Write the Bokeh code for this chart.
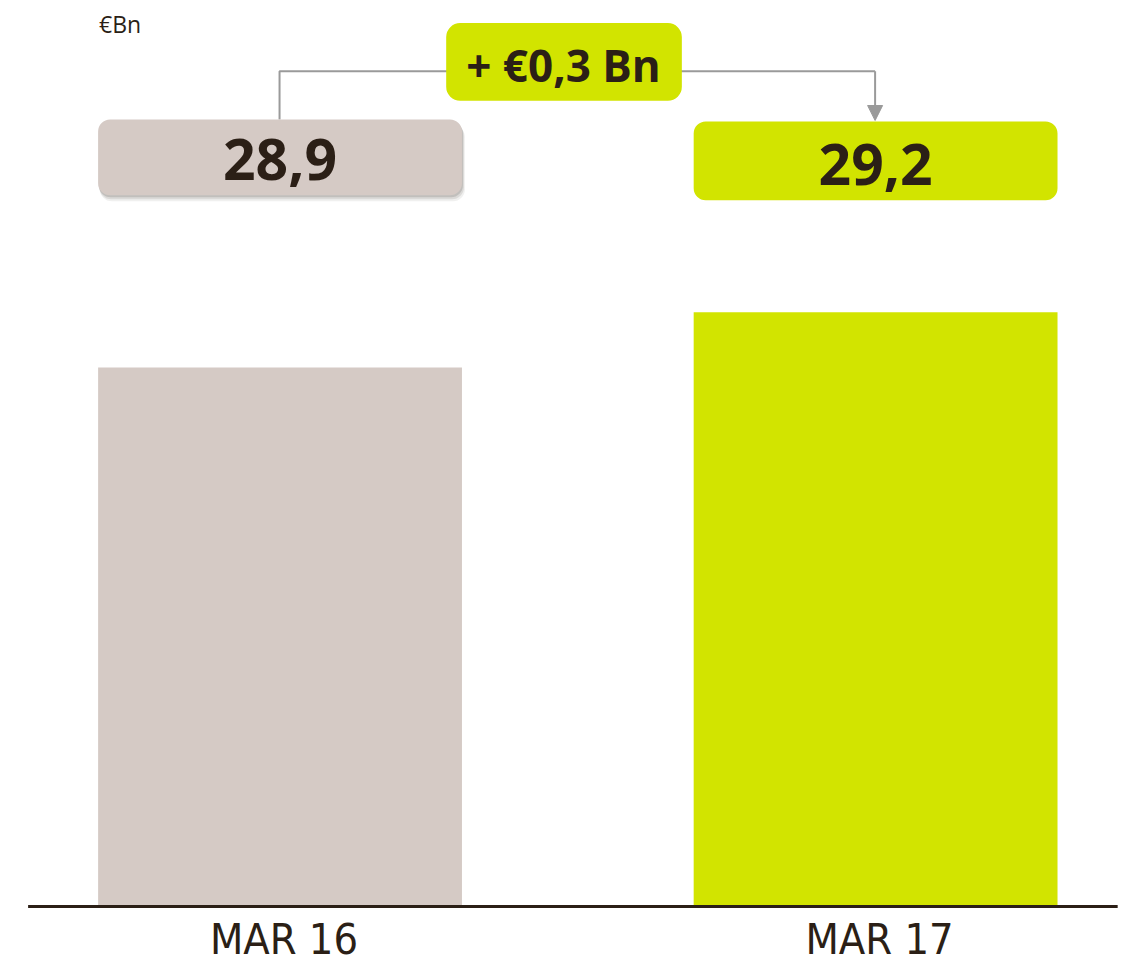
from bokeh.plotting import figure
from bokeh.models import ColumnDataSource, BoxAnnotation, Label, Arrow, NormalHead, Range1d
from bokeh.embed import file_html
from bokeh.resources import INLINE
from bokeh.core.properties import value

# ---- data ----
categories = ["MAR 16", "MAR 17"]
values = [28.9, 29.2]
bar_colors = ["#d5cac5", "#d2e400"]
unit_label = "€Bn"

TEXT = "#2b1f16"
GREY_LINE = "#9a9a9a"

# ---- layout (reference pixel space 1145 x 980 mapped onto the figure) ----
W, H = 1129, 964
PX_X = 604.0      # pixels per category step
CX0 = 283.5       # pixel centre of first category
PX_Y = 186.67     # pixels per value unit
REF_V, REF_PY = values[0], 373.0

def dx(px):
    return (px - CX0) / PX_X

def dy(py):
    return REF_V + (REF_PY - py) / PX_Y

X_START, X_END = dx(0), dx(1145)
Y_START, Y_END = dy(980), dy(0)
BASE = dy(921)
BAR_W = 369 / PX_X

p = figure(width=W, height=H, output_backend="svg", toolbar_location=None,
           x_range=Range1d(X_START, X_END), y_range=Range1d(Y_START, Y_END),
           min_border=0, min_border_left=0, min_border_right=0,
           min_border_top=0, min_border_bottom=0)
p.axis.visible = False
p.grid.visible = False
p.outline_line_color = None
p.background_fill_color = "white"
p.border_fill_color = "white"

xs = list(range(len(categories)))
src = ColumnDataSource(dict(x=xs, top=values, color=bar_colors, cat=categories))
p.vbar(x="x", top="top", bottom=BASE, width=BAR_W, fill_color="color",
       line_color=None, source=src)

# baseline
p.line(x=[dx(28), dx(1133)], y=[BASE, BASE], line_color=TEXT, line_width=3)

# category labels
p.text(x=[xi + 4 / PX_X for xi in xs], y=dy(954), text=categories, text_align="center",
       text_baseline="middle", text_font=value("DejaVu Sans Condensed, Lato"),
       text_font_size="43px", text_color=TEXT)

# connector lines
p.line(x=[dx(283), dx(283), dx(887)], y=[dy(121), dy(72), dy(72)],
       line_color=GREY_LINE, line_width=2)
p.add_layout(Arrow(end=NormalHead(size=15, fill_color=GREY_LINE, line_color=GREY_LINE),
                   x_start=dx(887), y_start=dy(72), x_end=dx(887), y_end=dy(122),
                   line_color=GREY_LINE, line_width=2))

def fmt(v):
    return f"{v:.1f}".replace(".", ",")

box_tops = [121, 123]
box_bottoms = [198, 203]
text_mid = [161.5, 167]

# soft shadow under first box
for off, a in [(6, 0.10), (4, 0.16), (2, 0.24)]:
    p.add_layout(BoxAnnotation(left=xs[0] - BAR_W / 2 + off * 0.3 / PX_X,
                               right=xs[0] + BAR_W / 2 + off * 0.5 / PX_X,
                               top=dy(box_tops[0] + off), bottom=dy(box_bottoms[0] + off),
                               fill_color="#6f6a66", fill_alpha=a, line_color=None,
                               border_radius=12))

for i, v in enumerate(values):
    p.add_layout(BoxAnnotation(left=xs[i] - BAR_W / 2, right=xs[i] + BAR_W / 2,
                               top=dy(box_tops[i]), bottom=dy(box_bottoms[i]),
                               fill_color=bar_colors[i], fill_alpha=1, line_color=None,
                               border_radius=12))
    p.add_layout(Label(x=xs[i], y=dy(text_mid[i]), text=fmt(v), text_align="center",
                       text_baseline="middle", text_font="Open Sans",
                       text_font_style="bold", text_font_size="57px", text_color=TEXT))

# difference box
diff = values[1] - values[0]
p.add_layout(BoxAnnotation(left=dx(452), right=dx(691), top=dy(23), bottom=dy(102),
                           fill_color=bar_colors[1], fill_alpha=1, line_color=None,
                           border_radius=14))
p.add_layout(Label(x=dx(571), y=dy(66), text=f"+ €{diff:.1f} Bn".replace(".", ","),
                   text_align="center", text_baseline="middle", text_font="Open Sans",
                   text_font_style="bold", text_font_size="44px", text_color=TEXT))

# unit label
p.add_layout(Label(x=dx(100), y=dy(24), text=unit_label, text_align="left",
                   text_baseline="middle", text_font="Open Sans",
                   text_font_size="23px", text_color=TEXT))

open("out.html", "w").write(file_html(p, INLINE))
